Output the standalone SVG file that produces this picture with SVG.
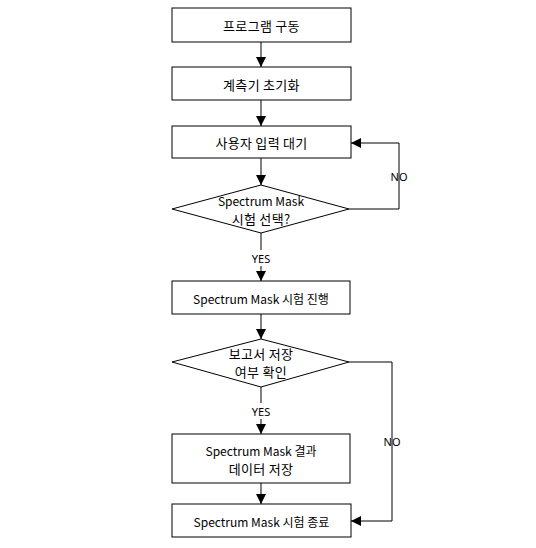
<svg xmlns="http://www.w3.org/2000/svg" width="536" height="548" viewBox="0 0 536 548">
<style>
.n{fill:#fff;stroke:#000;stroke-width:1}
.t{font-family:"Noto Sans CJK KR","Noto Sans",sans-serif;font-size:12px;fill:#000;text-anchor:middle;dominant-baseline:central}
.k{font-size:13px;letter-spacing:0.3px}
.l{font-family:"Noto Sans","Noto Sans CJK KR",sans-serif;font-size:11px;fill:#000;text-anchor:middle;dominant-baseline:central}
.c{fill:none;stroke:#000;stroke-width:1}
</style>
<defs>
<marker id="a" markerWidth="10" markerHeight="10" refX="10" refY="5" orient="auto" markerUnits="userSpaceOnUse">
<path d="M0,0 L10,5 L0,10 Z" fill="#000"/>
</marker>
</defs>
<rect width="536" height="548" fill="#fff"/>
<g id="connectors">
<line class="c" x1="261" y1="42" x2="261" y2="67" marker-end="url(#a)"/>
<line class="c" x1="261" y1="100" x2="261" y2="126" marker-end="url(#a)"/>
<line class="c" x1="261" y1="158" x2="261" y2="185" marker-end="url(#a)"/>
<polyline class="c" points="349,209 399,209 399,143 351,143" marker-end="url(#a)"/>
<line class="c" x1="261" y1="233" x2="261" y2="250"/>
<line class="c" x1="261" y1="266" x2="261" y2="281" marker-end="url(#a)"/>
<line class="c" x1="261" y1="314" x2="261" y2="339" marker-end="url(#a)"/>
<line class="c" x1="261" y1="387" x2="261" y2="403"/>
<line class="c" x1="261" y1="419" x2="261" y2="434" marker-end="url(#a)"/>
<polyline class="c" points="349,362 392,362 392,521 351,521" marker-end="url(#a)"/>
<line class="c" x1="261" y1="483" x2="261" y2="504" marker-end="url(#a)"/>
<text class="l" x="399" y="176">NO</text>
<text class="l" x="261" y="258">YES</text>
<text class="l" x="261" y="411">YES</text>
<text class="l" x="392" y="441">NO</text>
</g>
<g id="n1"><rect class="n" x="172" y="8" width="179" height="34"/><text class="t k" x="261.5" y="25">프로그램 구동</text></g>
<g id="n2"><rect class="n" x="172" y="67" width="179" height="33"/><text class="t k" x="261.5" y="84">계측기 초기화</text></g>
<g id="n3"><rect class="n" x="172" y="126" width="179" height="32"/><text class="t k" x="261.5" y="142">사용자 입력 대기</text></g>
<g id="d1"><polygon class="n" points="261,185 349,209 261,233 172,209"/><text class="t" x="261" y="200">Spectrum Mask</text><text class="t k" x="261" y="218">시험 선택?</text></g>
<g id="n4"><rect class="n" x="172" y="281" width="178" height="33"/><text class="t" x="261" y="298">Spectrum Mask 시험 진행</text></g>
<g id="d2"><polygon class="n" points="261,339 349,362 261,387 172,362"/><text class="t k" x="261" y="353">보고서 저장</text><text class="t k" x="261" y="371">여부 확인</text></g>
<g id="n5"><rect class="n" x="172" y="434" width="178" height="49"/><text class="t" x="261" y="450">Spectrum Mask 결과</text><text class="t k" x="261" y="468">데이터 저장</text></g>
<g id="n6"><rect class="n" x="172" y="504" width="179" height="33"/><text class="t" x="261.5" y="521">Spectrum Mask 시험 종료</text></g>
</svg>
